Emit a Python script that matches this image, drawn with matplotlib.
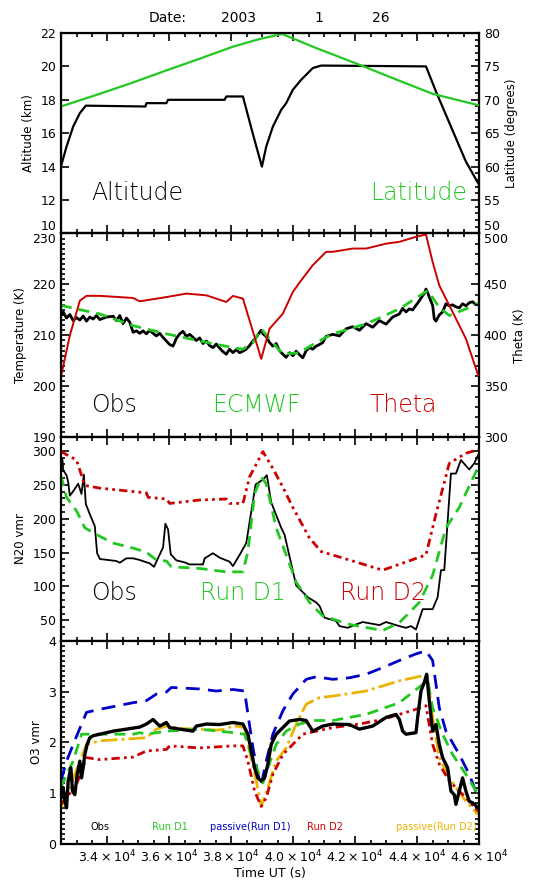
import numpy as np
import matplotlib
matplotlib.use('Agg')
import matplotlib.pyplot as plt
from matplotlib.ticker import MultipleLocator, FuncFormatter

# ---- data ----
# panel 1: altitude (km) and latitude (deg)
alt_t = [32495, 32678, 32893, 33108, 33301, 35226, 35258, 35903, 35957, 37784,
         37838, 38375, 38698, 38988, 39128, 39343, 39612, 39773, 39988, 40257,
         40633, 40902, 44288, 44610, 44933, 45255, 45578, 45976]
alt_km = [14.0, 15.2, 16.4, 17.2, 17.65, 17.6, 17.8, 17.8, 18.0, 18.0,
          18.2, 18.2, 15.95, 14.0, 15.2, 16.4, 17.4, 17.8, 18.6, 19.2,
          19.9, 20.05, 20.0, 18.5, 17.1, 15.7, 14.3, 13.0]
lat_t = [32495, 33753, 34828, 35903, 36978, 38053, 38913, 39644, 40740, 42138,
         43428, 44503, 45976]
lat_deg = [69.0, 70.9, 72.6, 74.4, 76.15, 77.95, 79.1, 79.85, 77.75, 75.25,
           72.85, 70.9, 69.2]

# panel 2: temperature (K), ECMWF, theta (K)
tobs_t = [32495, 32570, 32678, 32785, 32893, 33000, 33108, 33215, 33323, 33430,
          33538, 33645, 33753, 33968, 34183, 34290, 34398, 34505, 34613, 34720,
          34828, 34935, 35043, 35150, 35258, 35365, 35473, 35580, 35688, 35795,
          35903, 36010, 36118, 36225, 36333, 36440, 36548, 36655, 36763, 36870,
          36978, 37085, 37193, 37300, 37408, 37515, 37623, 37730, 37838, 37945,
          38053, 38160, 38268, 38375, 38483, 38590, 38698, 38805, 38913, 38967,
          39020, 39128, 39235, 39343, 39450, 39558, 39665, 39773, 39880, 39988,
          40095, 40203, 40310, 40418, 40525, 40633, 40740, 40848, 40955, 41063,
          41278, 41493, 41708, 41923, 42138, 42353, 42568, 42783, 42998, 43213,
          43428, 43535, 43643, 43750, 43858, 43965, 44073, 44180, 44234, 44288,
          44342, 44395, 44503, 44557, 44610, 44718, 44825, 44933, 45040, 45148,
          45255, 45363, 45470, 45578, 45685, 45793, 45900, 45976]
tobs_k = [213.9, 214.6, 213.4, 214.1, 212.9, 213.5, 213.0, 213.8, 212.8, 213.6,
          213.2, 213.9, 213.1, 213.6, 213.75, 212.9, 213.9, 212.3, 213.4, 212.6,
          210.6, 210.9, 210.4, 210.9, 210.3, 211.0, 210.4, 209.9, 210.4, 209.6,
          208.9, 208.2, 207.9, 209.4, 210.3, 210.8, 209.8, 210.2, 209.6, 209.0,
          209.5, 208.4, 208.9, 208.0, 207.6, 208.3, 207.5, 206.8, 206.3, 207.3,
          206.6, 207.2, 206.6, 206.9, 207.3, 208.0, 208.9, 209.6, 210.6, 211.0,
          210.3, 209.8, 208.6, 207.9, 208.4, 207.0, 206.3, 205.7, 206.6, 206.0,
          206.9, 206.2, 205.6, 207.0, 207.6, 207.3, 207.9, 208.2, 208.6, 209.8,
          210.2, 209.9, 211.3, 211.7, 211.0, 212.3, 211.6, 212.9, 212.2, 213.6,
          214.2, 215.3, 214.6, 215.2, 215.0, 215.9, 216.8, 217.8, 218.2, 219.1,
          218.4, 217.5, 215.9, 213.2, 212.8, 214.0, 214.6, 216.2, 215.8, 216.0,
          215.6, 215.4, 216.2, 215.8, 216.4, 216.6, 216.0, 216.2]
ecm_t = [32495, 33000, 33753, 34828, 35903, 36978, 38053, 38375, 38698, 38967,
         39235, 39665, 40203, 40740, 41278, 42353, 43428, 44342, 44718, 45040,
         45578, 45976]
ecm_k = [215.9, 215.2, 214.2, 211.9, 210.3, 208.9, 207.6, 207.3, 208.6, 211.25,
         209.3, 206.3, 206.6, 208.6, 210.3, 212.25, 215.2, 218.8, 215.5, 213.9,
         215.2, 216.2]
theta_t = [32495, 32785, 33108, 33323, 33753, 34828, 35043, 35903, 36548, 37193,
           37838, 38053, 38375, 38967, 39235, 39665, 39988, 40257, 40633, 41063,
           41278, 41923, 42353, 42998, 43428, 43965, 44288, 44503, 44718, 45148,
           45578, 45976]
theta_k = [359, 400, 434, 438.8, 438.8, 436.7, 433.4, 437.6, 441, 439.3,
           432.8, 438.7, 436.1, 377, 406.5, 421.3, 442.6, 454, 468.9, 482,
           482, 485.2, 485.2, 490, 491.8, 496.7, 499, 472, 449, 423,
           396.7, 360.7]

# panel 3: N2O (ppbv)
n2o_obs_t = [32495, 32549, 32570, 32678, 32731, 32785, 32839, 32946, 33054, 33161,
             33237, 33301, 33430, 33591, 33667, 33753, 34290, 34398, 34613, 34828,
             35043, 35365, 35505, 35580, 35795, 35871, 35957, 36043, 36225, 36494,
             36655, 37085, 37139, 37408, 37623, 37945, 38053, 38268, 38483, 38784,
             39020, 39149, 39289, 39612, 39719, 40095, 40472, 40740, 40848, 41009,
             41385, 41493, 41762, 42030, 42245, 42783, 42998, 43428, 43643, 43804,
             43965, 44180, 44503, 44664, 44772, 44879, 45094, 45255, 45417, 45685,
             45847, 45976]
n2o_obs = [291.5, 286.5, 271.5, 264, 254, 234, 237, 244, 251.5, 236.5,
           265, 221.5, 206.5, 189, 149, 140.5, 137.5, 135, 141.5, 141.5,
           139, 134, 129, 136.5, 157.5, 192.5, 184, 147.5, 138.5, 135.5,
           132.5, 132.5, 141.5, 149, 142.5, 136.5, 130, 146.5, 164, 250.5,
           257.5, 264, 224, 186.5, 176.5, 101.5, 84, 76.5, 71.5, 54,
           49, 41.5, 39, 44, 47.5, 43, 47.5, 41.5, 39, 41.5,
           36.5, 66.5, 66.5, 84, 124, 124, 266.5, 266.5, 286.5, 272.5,
           281.5, 294]
n2o_d1_t = [32495, 32678, 33000, 33269, 33645, 34183, 34828, 35258, 35580, 35903,
            36064, 36978, 37838, 38375, 38537, 38752, 38967, 39128, 39450, 39773,
            40095, 40525, 40955, 41815, 42890, 43428, 44073, 44503, 44933, 45363,
            45976]
n2o_d1 = [264, 231.5, 211.5, 186.5, 176.5, 164, 156.5, 150.5, 139, 137.5,
          129, 126.5, 121.5, 121.5, 151.5, 236.5, 261.5, 251.5, 186.5, 146.5,
          106.5, 76.5, 56.5, 44, 35, 46.5, 76.5, 116.5, 186.5, 216.5,
          276.5]
n2o_d2_t = [32495, 33000, 33269, 33753, 35258, 35312, 35903, 36010, 36978, 37838,
            37945, 38375, 38590, 39020, 39343, 39665, 39988, 40525, 40902, 41815,
            42890, 44288, 44610, 45040, 45578, 45976]
n2o_d2 = [299, 286.5, 249, 245, 238, 231.5, 229, 222.5, 227.5, 229,
          222.5, 222.5, 261.5, 299, 274, 246.5, 216.5, 171.5, 151.5, 139,
          124, 146.5, 206.5, 281.5, 296.5, 301.5]

# panel 4: O3 (ppmv)
o3_obs_t = [32495, 32570, 32624, 32678, 32731, 32818, 32871, 32946, 33022, 33108,
            33161, 33215, 33269, 33344, 33430, 33538, 33753, 34183, 34613, 35043,
            35258, 35473, 35688, 35903, 36010, 36333, 36763, 36870, 37193, 37623,
            38053, 38375, 38537, 38644, 38752, 38859, 38967, 39074, 39181, 39289,
            39450, 39665, 39880, 40203, 40418, 40633, 40955, 41278, 41815, 42138,
            42568, 42998, 43320, 43428, 43535, 43643, 43965, 44019, 44127, 44234,
            44310, 44395, 44503, 44610, 44718, 44825, 44987, 45094, 45202, 45255,
            45363, 45470, 45578, 45685, 45793, 45976]
o3_obs = [0.91, 1.11, 0.84, 0.71, 1.24, 1.5, 1.04, 0.97, 1.37, 1.63,
          1.3, 1.5, 1.76, 1.96, 2.09, 2.13, 2.16, 2.22, 2.26, 2.3,
          2.36, 2.45, 2.32, 2.39, 2.29, 2.26, 2.22, 2.32, 2.36, 2.35,
          2.39, 2.36, 2.16, 1.83, 1.5, 1.3, 1.24, 1.3, 1.57, 1.96,
          2.16, 2.29, 2.42, 2.45, 2.43, 2.22, 2.32, 2.36, 2.35, 2.26,
          2.32, 2.49, 2.55, 2.45, 2.22, 2.16, 2.19, 2.49, 3.01, 3.18,
          3.34, 2.82, 2.22, 2.35, 1.96, 1.7, 1.5, 1.04, 0.97, 0.78,
          1.04, 1.3, 1.04, 0.84, 0.81, 0.71]
o3_d1_t = [32495, 32678, 32893, 33161, 33538, 34828, 35043, 35258, 35903, 36978,
           38053, 38429, 38644, 38859, 39020, 39181, 39450, 39773, 40203, 40633,
           41278, 42353, 43428, 44180, 44342, 44503, 44825, 45148, 45578, 45976]
o3_d1 = [1.11, 1.37, 1.63, 2.16, 2.16, 2.16, 2.19, 2.16, 2.22, 2.26,
         2.19, 2.16, 1.76, 1.43, 1.2, 1.5, 1.96, 2.22, 2.36, 2.43,
         2.43, 2.55, 2.78, 3.14, 3.21, 2.68, 2.16, 1.76, 1.37, 0.97]
o3_pd1_t = [32495, 32678, 32893, 33323, 33753, 34828, 35258, 35580, 35903, 36064,
            36978, 37515, 38053, 38429, 38537, 38698, 38859, 38967, 39128, 39343,
            39665, 39988, 40418, 40740, 41278, 41815, 42353, 42890, 43428, 43965,
            44288, 44503, 44718, 44933, 45363, 45685, 45976]
o3_pd1 = [1.24, 1.63, 1.96, 2.59, 2.65, 2.78, 2.82, 2.95, 2.99, 3.08,
          3.05, 3.01, 3.04, 3.01, 2.55, 1.9, 1.37, 1.17, 1.63, 2.16,
          2.62, 2.95, 3.24, 3.29, 3.24, 3.27, 3.34, 3.47, 3.61, 3.74,
          3.8, 3.61, 2.68, 2.22, 1.76, 1.37, 0.91]
o3_d2_t = [32495, 32678, 33000, 33323, 33753, 34828, 35258, 35903, 36010, 36978,
           38053, 38375, 38537, 38752, 38967, 39128, 39343, 39665, 39988, 40310,
           40740, 41278, 42138, 42890, 43428, 43965, 44288, 44503, 44718, 45040,
           45578, 45976]
o3_d2 = [0.78, 0.91, 1.17, 1.7, 1.66, 1.71, 1.83, 1.86, 1.93, 1.89,
         1.93, 1.93, 1.63, 1.04, 0.74, 0.91, 1.37, 1.76, 1.96, 2.16,
         2.22, 2.29, 2.36, 2.45, 2.55, 2.65, 2.72, 1.96, 1.57, 1.24,
         0.91, 0.64]
o3_pd2_t = [32495, 32785, 33108, 33323, 33753, 35258, 35580, 35903, 36440, 36978,
            37515, 37838, 38053, 38429, 38590, 38805, 38967, 39181, 39450, 39773,
            40095, 40418, 40848, 41278, 42353, 43428, 44180, 44342, 44503, 44718,
            45040, 45578, 45976]
o3_pd2 = [0.71, 1.11, 1.63, 1.96, 2.03, 2.09, 2.26, 2.32, 2.27, 2.26,
          2.24, 2.26, 2.33, 2.29, 1.83, 1.24, 0.74, 1.11, 1.63, 1.89,
          2.36, 2.75, 2.88, 2.91, 3.01, 3.21, 3.31, 3.28, 2.49, 1.7,
          1.3, 0.84, 0.58]

GREEN = '#22c822'
RED = '#cc0000'
BLUE = '#0000c8'
GOLD = '#e8b400'
big = dict(fontsize=17, fontfamily='DejaVu Sans', fontweight='light')

plt.rcParams['font.family'] = 'DejaVu Sans'
plt.rcParams['font.size'] = 9

fig = plt.figure(figsize=(5.4, 8.82), dpi=100)
x0, w = 0.113, 0.774
ax1 = fig.add_axes([x0, 0.7353, w, 0.2273])
ax2 = fig.add_axes([x0, 0.5042, w, 0.2311], sharex=ax1)
ax3 = fig.add_axes([x0, 0.2736, w, 0.2306], sharex=ax1)
ax4 = fig.add_axes([x0, 0.0431, w, 0.2305], sharex=ax1)


def style(ax, right=True):
    for s in ax.spines.values():
        s.set_linewidth(1.6)
    ax.tick_params(which='both', direction='in', top=True, right=right,
                   width=1.2, labelsize=9)
    ax.tick_params(which='major', length=6)
    ax.tick_params(which='minor', length=3)
    ax.xaxis.set_major_locator(MultipleLocator(2000))
    ax.xaxis.set_minor_locator(MultipleLocator(500))


def twin_style(tw):
    tw.tick_params(which='both', direction='in', width=1.2, labelsize=9)
    tw.tick_params(which='major', length=6)
    tw.tick_params(which='minor', length=3)


# panel 1
ax1.plot(alt_t, alt_km, color='black', lw=1.6)
ax1.set_ylim(10, 22)
ax1.yaxis.set_major_locator(MultipleLocator(2))
ax1.set_ylabel('Altitude (km)', fontsize=8.5)
style(ax1, right=False)
tw1 = ax1.twinx()
tw1.plot(lat_t, lat_deg, color=GREEN, lw=1.6)
tw1.set_ylim(50, 80)
tw1.yaxis.set_major_locator(MultipleLocator(5))
tw1.yaxis.set_minor_locator(MultipleLocator(1))
tw1.set_ylabel('Latitude (degrees)', fontsize=8.5)
twin_style(tw1)
ax1.text(0.073, 0.2, 'Altitude', transform=ax1.transAxes, va='center', **big)
ax1.text(0.971, 0.2, 'Latitude', transform=ax1.transAxes, va='center',
         ha='right', color=GREEN, **big)

# panel 2
ax2.plot(tobs_t, tobs_k, color='black', lw=2)
ax2.plot(ecm_t, ecm_k, color=GREEN, lw=2, ls=(0, (4, 2.5)))
ax2.set_ylim(190, 230)
ax2.yaxis.set_major_locator(MultipleLocator(10))
ax2.yaxis.set_minor_locator(MultipleLocator(1))
ax2.set_ylabel('Temperature (K)', fontsize=8.5)
style(ax2, right=False)
tw2 = ax2.twinx()
tw2.plot(theta_t, theta_k, color=RED, lw=1.4)
tw2.set_ylim(300, 500)
tw2.yaxis.set_major_locator(MultipleLocator(50))
tw2.yaxis.set_minor_locator(MultipleLocator(10))
tw2.set_ylabel('Theta (K)', fontsize=8.5)
twin_style(tw2)
ax2.text(0.073, 0.16, 'Obs', transform=ax2.transAxes, va='center', **big)
ax2.text(0.468, 0.16, 'ECMWF', transform=ax2.transAxes, va='center',
         ha='center', color=GREEN, **big)
ax2.text(0.818, 0.16, 'Theta', transform=ax2.transAxes, va='center',
         ha='center', color=RED, **big)

# panel 3
ax3.plot(n2o_obs_t, n2o_obs, color='black', lw=1.3)
ax3.plot(n2o_d1_t, n2o_d1, color=GREEN, lw=2, ls=(0, (4, 2.5)))
ax3.plot(n2o_d2_t, n2o_d2, color=RED, lw=2, ls=(0, (3, 1.5, 1, 1.5, 1, 1.5)))
ax3.set_ylim(20, 320)
ax3.yaxis.set_major_locator(MultipleLocator(50))
ax3.yaxis.set_minor_locator(MultipleLocator(10))
ax3.set_ylabel('N20 vmr', fontsize=8.5)
style(ax3)
ax3.text(0.073, 0.233, 'Obs', transform=ax3.transAxes, va='center', **big)
ax3.text(0.436, 0.233, 'Run D1', transform=ax3.transAxes, va='center',
         ha='center', color=GREEN, **big)
ax3.text(0.771, 0.233, 'Run D2', transform=ax3.transAxes, va='center',
         ha='center', color=RED, **big)

# panel 4
ax4.plot(o3_pd1_t, o3_pd1, color=BLUE, lw=2, ls=(0, (5, 3)))
ax4.plot(o3_pd2_t, o3_pd2, color=GOLD, lw=2, ls=(0, (6, 1.5, 1, 1.5)))
ax4.plot(o3_d2_t, o3_d2, color=RED, lw=2, ls=(0, (3, 1.5, 1, 1.5, 1, 1.5)))
ax4.plot(o3_d1_t, o3_d1, color=GREEN, lw=2, ls=(0, (4, 2.5)))
ax4.plot(o3_obs_t, o3_obs, color='black', lw=2.4)
ax4.set_ylim(0, 4)
ax4.yaxis.set_major_locator(MultipleLocator(1))
ax4.yaxis.set_minor_locator(MultipleLocator(0.1))
ax4.set_ylabel('O3 vmr', fontsize=8.5)
ax4.set_xlabel('Time UT (s)', fontsize=9, labelpad=1)
style(ax4)
for lab, xx, col in [('Obs', 0.093, 'black'), ('Run D1', 0.261, GREEN),
                     ('passive(Run D1)', 0.452, BLUE), ('Run D2', 0.632, RED),
                     ('passive(Run D2)', 0.899, GOLD)]:
    ax4.text(xx, 0.085, lab, transform=ax4.transAxes, ha='center',
             va='center', color=col, fontsize=7)

ax4.set_xlim(32500, 46000)
ax4.xaxis.set_major_formatter(FuncFormatter(
    lambda v, p: r'$%.1f\times10^{4}$' % (v / 1e4)))
for ax in (ax1, ax2, ax3):
    plt.setp(ax.get_xticklabels(), visible=False)

# date header
for s, xp in [('Date:', 168), ('2003', 239), ('1', 319), ('26', 381)]:
    fig.text(xp / 540, 1 - 18 / 882, s, ha='center', va='center', fontsize=10)

# stack the boundary labels like the reference (10 above 230, 50 above 500)
fig.canvas.draw()
for ax, txt, va in [(ax1, '10', 'bottom'), (tw1, '50', 'bottom'),
                    (ax2, '230', 'top'), (tw2, '500', 'top')]:
    for tk in ax.yaxis.get_major_ticks():
        lbl = tk.label2 if ax in (tw1, tw2) else tk.label1
        if lbl.get_text() == txt:
            lbl.set_va(va)

fig.savefig('out.png', dpi=100)
